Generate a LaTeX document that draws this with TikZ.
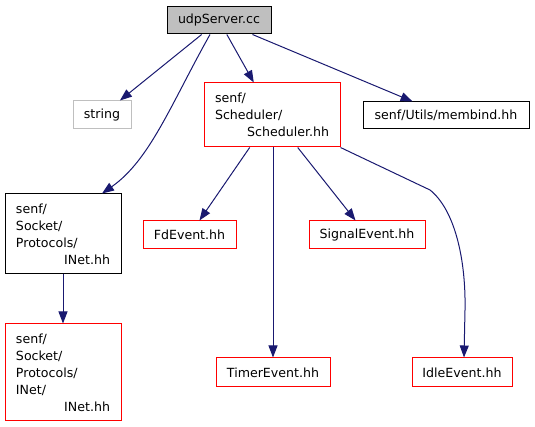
\documentclass[tikz,border=0pt]{standalone}
\usepackage{fontspec}
\setmainfont{DejaVu Sans}
\usetikzlibrary{arrows.meta}
\definecolor{dgedge}{HTML}{191970}
\definecolor{dgmissing}{HTML}{FF0000}
\definecolor{dggray}{HTML}{BFBFBF}

\begin{document}
\begin{tikzpicture}[x=1pt, y=1pt,
    font=\fontsize{12.6}{17}\selectfont,
    file/.style={rectangle, draw=black, line width=1pt, inner sep=0pt},
    notfound/.style={file, draw=dgmissing},
    pathbox/.style={inner xsep=11pt, text width=#1, align=left},
    dep/.style={draw=dgedge, line width=1pt, -{Triangle[length=12pt, width=9pt]}}]
                \useasboundingbox (0,0) rectangle (535,427);

                % Top level file and its direct includes
                \node[file, fill=dggray, minimum width=104pt, minimum height=27pt] (udp) at (219,406.5)
                    {udpServer.cc};
                \node[file, draw=dggray, minimum width=58pt, minimum height=28pt] (str) at (102,312)
                    {string};
                \node[notfound, pathbox=114pt, minimum height=64pt] (sched) at (272,312)
                    {senf/\\Scheduler/\\\mbox{}\hspace*{0pt plus 1filll}Scheduler.hh};
                \node[file, minimum width=166pt, minimum height=27pt] (membind) at (446,311.5)
                    {senf/Utils/membind.hh};
                \node[file, pathbox=94pt, minimum height=80pt] (inet) at (63,193)
                    {senf/\\Socket/\\Protocols/\\\mbox{}\hspace*{0pt plus 1filll}INet.hh};

                % Scheduler includes
                \node[notfound, minimum width=93pt, minimum height=28pt] (fd) at (189.5,192)
                    {FdEvent.hh};
                \node[notfound, minimum width=116pt, minimum height=28pt] (signal) at (367,192)
                    {SignalEvent.hh};
                \node[notfound, minimum width=114pt, minimum height=29pt] (timer) at (273,54.5)
                    {TimerEvent.hh};
                \node[notfound, minimum width=100pt, minimum height=29pt] (idle) at (462,54.5)
                    {IdleEvent.hh};

                % INet include
                \node[notfound, pathbox=94pt, minimum height=97pt] (inetinet) at (63,54.5)
                    {senf/\\Socket/\\Protocols/\\INet/\\\mbox{}\hspace*{0pt plus 1filll}INet.hh};

                \draw[dep] (udp) -- (str);
                \draw[dep] ([xshift=-9pt]udp.south) .. controls (171,323) and (150,267) .. ([xshift=39pt]inet.north);
                \draw[dep] (udp) -- (sched);
                \draw[dep] (udp) -- (membind);
                \draw[dep] (inet) -- (inetinet);

                \draw[dep] (sched) -- (fd);
                \draw[dep] (sched.south -| timer.north) -- (timer);
                \draw[dep] (sched) -- (signal);
                \draw[dep] (sched.south east) -- (430,237) .. controls (455,217) and (466,167) .. (465,117) -- ([xshift=2pt]idle.north);
            \end{tikzpicture}
\end{document}
